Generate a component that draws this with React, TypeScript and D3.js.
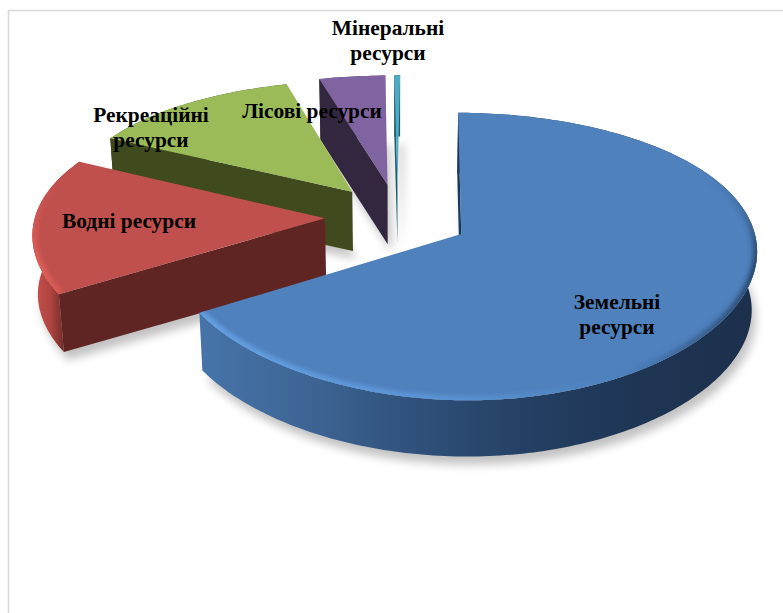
import React from "react";
import * as d3 from "d3";

// ---- data ----
const categories = ["Земельні ресурси", "Водні ресурси", "Рекреаційні ресурси", "Лісові ресурси", "Мінеральні ресурси"];
const shares = [66.2, 16.0, 13.33, 4.11, 0.36];
const topColors = ["#4f81bd", "#c0504d", "#9bbb59", "#8064a2", "#4bacc6"];
const cutColors = ["#17375e", "#5f2522", "#3f4a1e", "#33273f", "#1f5a6a"];
const rimStops = [
  ["#64a0e4", "#5c94d6", "#4d80bb", "#2a4a70"],
  ["#e0605a", "#d85a55", "#c0504d", "#c0504d"],
  ["#9bbb59", "#9bbb59", "#9bbb59", "#9bbb59"],
  ["#8064a2", "#8064a2", "#8064a2", "#8064a2"],
  ["#4bacc6", "#4bacc6", "#4bacc6", "#4bacc6"],
];
const wallStops = [
  ["#4674aa", "#3d6594", "#2f5079", "#243f63", "#1e3553", "#1c304c"],
  ["#c9524e", "#b0443f", "#5f2522", "#5f2522", "#5f2522", "#5f2522"],
  ["#5a6b2c", "#4a5824", "#3f4a1e", "#3f4a1e", "#3f4a1e", "#3f4a1e"],
  ["#33273f", "#33273f", "#33273f", "#33273f", "#33273f", "#33273f"],
  ["#1f5a6a", "#1f5a6a", "#1f5a6a", "#1f5a6a", "#1f5a6a", "#1f5a6a"],
];
const labelLines = [
  ["Земельні", "ресурси"],
  ["Водні ресурси"],
  ["Рекреаційні", "ресурси"],
  ["Лісові ресурси"],
  ["Мінеральні", "ресурси"],
];

// ---- layout ----
const W = 783, H = 613;
const Cx = 397.5, Cy = 217, Rx = 290, Ry = 135, perspX = 0.1, perspY = 0.153;
const explode = 0.25, radius = 1, depth = 59, squeeze = 0.985;
const rotation = (0.6 * Math.PI) / 180;
const labelAt: [number, number][] = [
  [617, 303],
  [129, 222],
  [151, 116],
  [312, 112],
  [388, 29],
];
const lineGap = 25;

const project = (u: number, v: number, bottom = false): [number, number] => {
  const k = bottom ? squeeze : 1;
  const sx = (1 / (1 - perspX * v)) * k;
  const sy = (1 / (1 - perspY * v)) * k;
  return [Cx + Rx * u * sx, Cy + Ry * v * sy + (bottom ? depth : 0)];
};

const arcs = d3
  .pie<number>()
  .sort(null)
  .startAngle(rotation)
  .endAngle(rotation + 2 * Math.PI)(shares);

const path = d3.line<[number, number]>().curve(d3.curveLinearClosed);
const open = d3.line<[number, number]>();

const geom = arcs.map((a) => {
  const mid = (a.startAngle + a.endAngle) / 2;
  const u0 = explode * Math.sin(mid);
  const v0 = -explode * Math.cos(mid);
  const n = Math.max(4, Math.ceil(((a.endAngle - a.startAngle) * 180) / Math.PI));
  const t = d3.scaleLinear().domain([0, n]).range([a.startAngle, a.endAngle]);
  const world = d3.range(n + 1).map((i): [number, number] => [
    u0 + radius * Math.sin(t(i)),
    v0 - radius * Math.cos(t(i)),
  ]);
  const topArc = world.map(([u, v]) => project(u, v));
  const botArc = world.map(([u, v]) => project(u, v, true));
  const apexT = project(u0, v0);
  const apexB = project(u0, v0, true);
  return {
    top: path([apexT, ...topArc]) as string,
    bottom: path([apexB, ...botArc]) as string,
    wall: path([...topArc, ...[...botArc].reverse()]) as string,
    cutStart: path([apexT, topArc[0], botArc[0], apexB]) as string,
    rim: open(topArc) as string,
  };
});

const stopAt = d3.scaleLinear().domain([0, 1]).range([0, 100]);

export default function App() {
  const order = d3.range(geom.length).reverse();
  return (
    <svg width={W} height={H} viewBox={`0 0 ${W} ${H}`} style={{ position: "absolute", left: 0, top: 0, background: "#fff" }}>
      <defs>
        <filter id="soft" x="-20%" y="-20%" width="140%" height="140%">
          <feGaussianBlur stdDeviation="5" />
        </filter>
        <filter id="rimBlur" x="-10%" y="-10%" width="120%" height="120%">
          <feGaussianBlur stdDeviation="2.2" />
        </filter>
        <linearGradient id="rimFade" gradientUnits="userSpaceOnUse" x1={0} x2={0} y1={175} y2={265}>
          <stop offset="0%" stopColor="#000" />
          <stop offset="100%" stopColor="#fff" />
        </linearGradient>
        <mask id="rimMask" maskUnits="userSpaceOnUse" x={0} y={0} width={W} height={H}>
          <rect x={0} y={0} width={W} height={H} fill="url(#rimFade)" />
        </mask>
        {geom.map((_, i) => (
          <clipPath id={`clip${i}`} key={i}>
            <path d={geom[i].top} />
          </clipPath>
        ))}
        {geom.map((_, i) => (
          <linearGradient id={`rim${i}`} key={i} gradientUnits="userSpaceOnUse" x1={30} x2={760} y1={0} y2={0}>
            {(i === 0 ? [0.23, 0.55, 0.82, 1] : [0, 0.05, 0.1, 1]).map((o, k) => (
              <stop key={k} offset={`${stopAt(o)}%`} stopColor={rimStops[i][k]} />
            ))}
          </linearGradient>
        ))}
        {geom.map((_, i) => (
          <linearGradient id={`wall${i}`} key={i} gradientUnits="userSpaceOnUse" x1={i === 0 ? 198 : 33} x2={i === 0 ? 754 : 120} y1={0} y2={0}>
            {wallStops[i].map((c, k) => (
              <stop key={k} offset={`${stopAt(k / (wallStops[i].length - 1))}%`} stopColor={c} />
            ))}
          </linearGradient>
        ))}
      </defs>

      <path d={`M8.5 ${H}V10.5H${W}`} fill="none" stroke="#d9d9d9" strokeWidth={1.6} />

      <g filter="url(#soft)" transform="translate(4,8)" opacity={0.24}>
        {geom.map((g, i) => (
          <path key={i} d={g.bottom} fill="#000" />
        ))}
      </g>

      {order.map((i) => (
        <g key={i}>
          <path d={geom[i].wall} fill={`url(#wall${i})`} />
          <path d={geom[i].cutStart} fill={cutColors[i]} />
          <path d={geom[i].top} fill={topColors[i]} />
          <g clipPath={`url(#clip${i})`}>
            <g mask="url(#rimMask)">
              <path d={geom[i].rim} fill="none" stroke={`url(#rim${i})`} strokeWidth={9} filter="url(#rimBlur)" />
            </g>
          </g>
        </g>
      ))}

      {labelLines.map((lines, i) => (
        <text
          key={categories[i]}
          x={labelAt[i][0]}
          y={labelAt[i][1]}
          textAnchor="middle"
          fontFamily="'Liberation Serif', serif"
          fontWeight="bold"
          fontSize={21.4}
          fill="#000"
        >
          {lines.map((l, k) => (
            <tspan key={k} x={labelAt[i][0]} dy={k === 0 ? 6 : lineGap}>
              {l}
            </tspan>
          ))}
        </text>
      ))}
    </svg>
  );
}
